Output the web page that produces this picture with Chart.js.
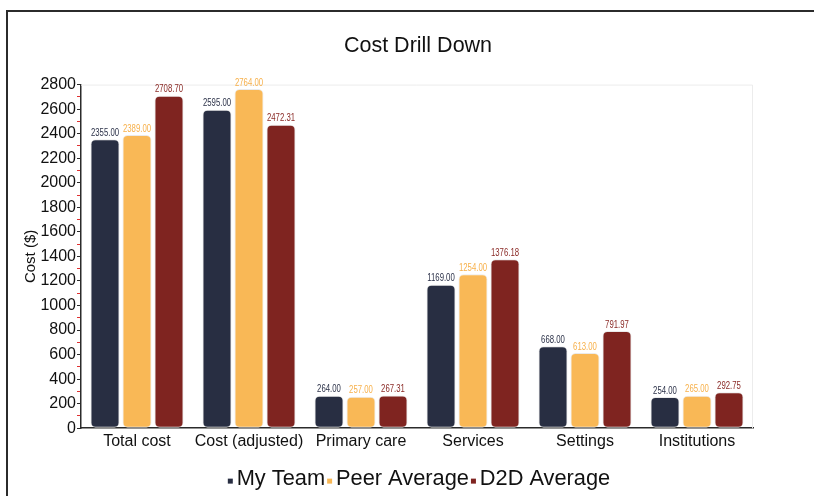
<!DOCTYPE html>
<html>
<head>
<meta charset="utf-8">
<script src="https://cdn.jsdelivr.net/npm/chart.js@4.4.1/dist/chart.umd.min.js"></script>
<style>
  html, body { margin: 0; padding: 0; background: #fff; overflow: hidden; }
  #wrap { position: relative; width: 814px; height: 496px; }
  #frame { position: absolute; left: 6px; top: 10px; width: 900px; height: 600px; border-left: 2px solid #2b2b2b; border-top: 2px solid #2b2b2b; box-sizing: border-box; }
  #c { position: absolute; left: 0; top: 0; }
</style>
</head>
<body>
<div id="wrap">
  <div id="frame"></div>
  <canvas id="c" width="814" height="496"></canvas>
</div>
<script>
const categories = ['Total cost', 'Cost (adjusted)', 'Primary care', 'Services', 'Settings', 'Institutions'];
const myTeam = [2355.00, 2595.00, 264.00, 1169.00, 668.00, 254.00];
const peerAverage = [2389.00, 2764.00, 257.00, 1254.00, 613.00, 265.00];
const d2dAverage = [2708.70, 2472.31, 267.31, 1376.18, 791.97, 292.75];
const seriesNames = ['My Team', 'Peer Average', 'D2D Average'];
const seriesColors = ['#282e42', '#f9b856', '#7f2420'];
const labelColors = ['#2c3249', '#f7b04a', '#8a2a26'];
const yMax = 2800;

const FONT = "'Liberation Sans', Arial, sans-serif";

function legendMarker(color) {
  const c = document.createElement('canvas');
  c.width = 26; c.height = 12;
  const g = c.getContext('2d');
  g.fillStyle = color;
  g.fillRect(15, 6, 5, 5);
  return c;
}

const valueLabels = {
  id: 'valueLabels',
  afterDatasetsDraw(chart) {
    const ctx = chart.ctx;
    chart.data.datasets.forEach((ds, i) => {
      const meta = chart.getDatasetMeta(i);
      meta.data.forEach((el, j) => {
        ctx.save();
        ctx.font = "10.5px " + FONT;
        ctx.textAlign = 'center';
        ctx.textBaseline = 'bottom';
        ctx.fillStyle = labelColors[i];
        ctx.translate(el.x, el.y - 1);
        ctx.scale(0.74, 1);
        ctx.fillText(ds.data[j].toFixed(2), 0, 0);
        ctx.restore();
      });
    });
  }
};

const areaBorder = {
  id: 'areaBorder',
  beforeDatasetsDraw(chart) {
    const a = chart.chartArea, ctx = chart.ctx;
    ctx.save();
    ctx.strokeStyle = '#ececec';
    ctx.lineWidth = 1;
    ctx.beginPath();
    ctx.moveTo(a.left, a.top + 0.5);
    ctx.lineTo(a.right - 0.5, a.top + 0.5);
    ctx.lineTo(a.right - 0.5, a.bottom);
    ctx.stroke();
    ctx.restore();
  }
};

const datasets = [myTeam, peerAverage, d2dAverage].map((d, i) => ({
  label: seriesNames[i],
  data: d,
  backgroundColor: seriesColors[i],
  borderColor: 'rgba(232,232,232,0.9)',
  borderWidth: 1,
  borderRadius: 5,
  borderSkipped: false,
  categoryPercentage: 0.857,
  barPercentage: 0.91,
  yAxisID: 'y'
}));

new Chart(document.getElementById('c'), {
  type: 'bar',
  data: { labels: categories, datasets },
  plugins: [areaBorder, valueLabels],
  options: {
    responsive: false,
    animation: false,
    layout: { padding: { left: 22, right: 0, top: 0, bottom: -3.5 } },
    plugins: {
      title: {
        display: true,
        text: 'Cost Drill Down',
        color: '#111',
        font: { family: FONT, size: 21.5, weight: 'normal' },
        padding: { top: 33, bottom: 25.8 }
      },
      legend: {
        position: 'bottom',
        labels: {
          usePointStyle: true,
          pointStyleWidth: 0.01,
          color: '#111',
          padding: 0,
          font: { family: FONT, size: 21.8 },
          generateLabels(chart) {
            const items = Chart.defaults.plugins.legend.labels.generateLabels(chart);
            items.forEach((it, i) => { it.pointStyle = legendMarker(seriesColors[i]); });
            return items;
          }
        }
      },
      tooltip: { enabled: false }
    },
    scales: {
      x: {
        afterFit(scale) { scale.height = 39.5; },
        grid: { display: false, drawTicks: false },
        border: { color: '#2b2b2b', width: 1.5 },
        ticks: { color: '#111', font: { family: FONT, size: 16 }, padding: 3.5, maxRotation: 0 }
      },
      y: {
        min: 0,
        max: yMax,
        afterFit(scale) { scale.width = 59; },
        border: { color: '#2b2b2b', width: 1.5 },
        grid: {
          drawOnChartArea: false,
          tickLength: 4,
          color: (c) => (c.tick && c.tick.value % 200 === 0) ? '#2b2b2b' : '#e03030'
        },
        ticks: {
          stepSize: 100,
          autoSkip: false,
          color: '#111',
          padding: 1,
          font: { family: FONT, size: 16 },
          callback: (v) => (v % 200 === 0 ? String(v) : '')
        },
        title: {
          display: true,
          text: 'Cost ($)',
          color: '#111',
          font: { family: FONT, size: 15 },
          padding: { top: 0, bottom: 0 }
        }
      },
      y2: {
        position: 'right',
        display: true,
        afterFit(scale) { scale.width = 61; },
        grid: { display: false, drawTicks: false },
        border: { display: false },
        ticks: { display: false }
      }
    }
  }
});
</script>
</body>
</html>
